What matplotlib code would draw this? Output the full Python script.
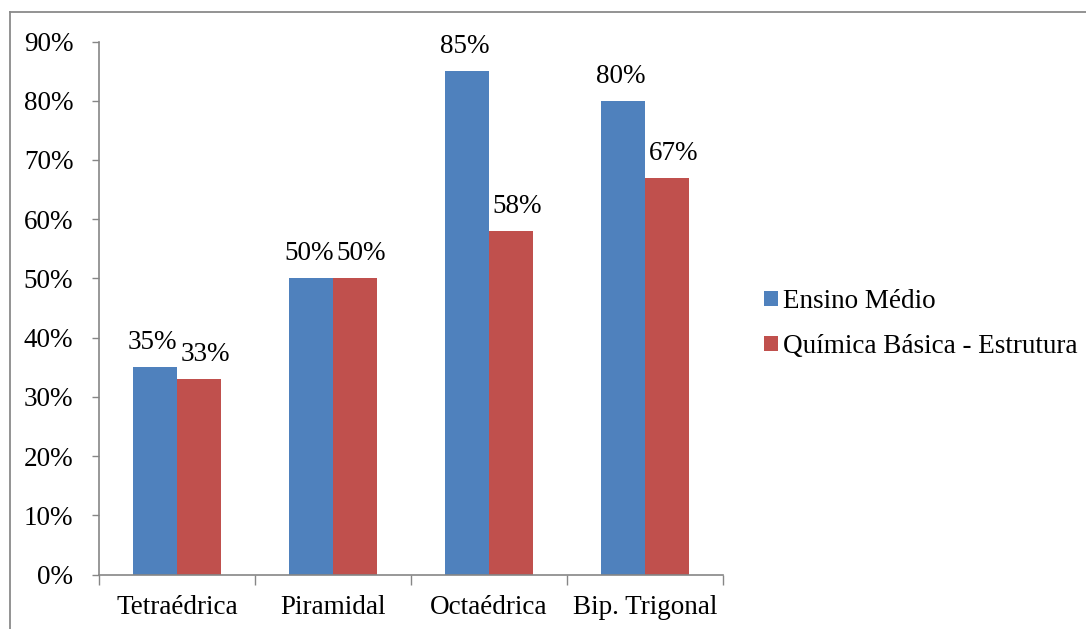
import matplotlib
matplotlib.use("Agg")
import matplotlib.pyplot as plt
from matplotlib.lines import Line2D
import numpy as np

categories = ["Tetraédrica", "Piramidal", "Octaédrica", "Bip. Trigonal"]
series_names = ["Ensino Médio", "Química Básica - Estrutura"]
ensino_medio = [35, 50, 85, 80]
quimica_basica = [33, 50, 58, 67]
y_ticks = [0, 10, 20, 30, 40, 50, 60, 70, 80, 90]

colors = ["#4F81BD", "#C0504D"]
axis_gray = "#868686"

plt.rcParams["font.family"] = ["Liberation Serif", "DejaVu Serif"]
FS = 19.5

W, H = 1086, 629
fig = plt.figure(figsize=(W / 100, H / 100), dpi=100)

# outer frame (only top and left edges fall inside the canvas)
fig.add_artist(Line2D([9.5 / W, 9.5 / W], [0, 1 - 11.5 / H], transform=fig.transFigure,
                      color="#8a8a8a", lw=1.3))
fig.add_artist(Line2D([9.5 / W, 1], [1 - 11.5 / H, 1 - 11.5 / H], transform=fig.transFigure,
                      color="#8a8a8a", lw=1.3))

left, right, top, bottom = 99, 723, 41.5, 574.5
ax = fig.add_axes([left / W, 1 - bottom / H, (right - left) / W, (bottom - top) / H])

x = np.arange(len(categories))
bw = 0.285
b1 = ax.bar(x - bw / 2, ensino_medio, bw, color=colors[0], label=series_names[0], zorder=2)
b2 = ax.bar(x + bw / 2, quimica_basica, bw, color=colors[1], label=series_names[1], zorder=2)

# value labels; the two series are nudged apart slightly so neighbours don't touch
for bars, vals, dx in ((b1, ensino_medio, -1.5), (b2, quimica_basica, 4.5)):
    for rect, v in zip(bars, vals):
        ax.annotate(f"{v}%", (rect.get_x() + rect.get_width() / 2, v),
                    xytext=(dx, 13), textcoords="offset points",
                    ha="center", va="baseline", fontsize=FS, color="black")

ax.set_xlim(-0.5, len(categories) - 0.5)
ax.set_ylim(0, 90)

ax.set_yticks(y_ticks)
ax.set_yticklabels([f"{t}%" for t in y_ticks])
ax.tick_params(axis="y", direction="out", length=5, width=1, color=axis_gray,
               labelsize=FS, pad=13.5)

# boundary ticks between categories, labels centred under each group
ax.set_xticks(np.arange(len(categories) + 1) - 0.5)
ax.set_xticklabels([])
ax.set_xticks(x, minor=True)
ax.set_xticklabels(categories, minor=True)
ax.tick_params(axis="x", which="major", direction="out", length=7, width=1, color=axis_gray)
ax.tick_params(axis="x", which="minor", length=0, labelsize=FS, pad=15)

for s in ("top", "right"):
    ax.spines[s].set_visible(False)
for s in ("left", "bottom"):
    ax.spines[s].set_color(axis_gray)
    ax.spines[s].set_linewidth(1.2)

ax.legend(loc="center left", bbox_to_anchor=(764 / W, 1 - 324 / H),
          bbox_transform=fig.transFigure, frameon=False, fontsize=FS,
          handlelength=0.5, handleheight=0.5, handletextpad=0.2,
          labelspacing=0.75, borderpad=0, borderaxespad=0)

fig.savefig("out.png", dpi=100)
